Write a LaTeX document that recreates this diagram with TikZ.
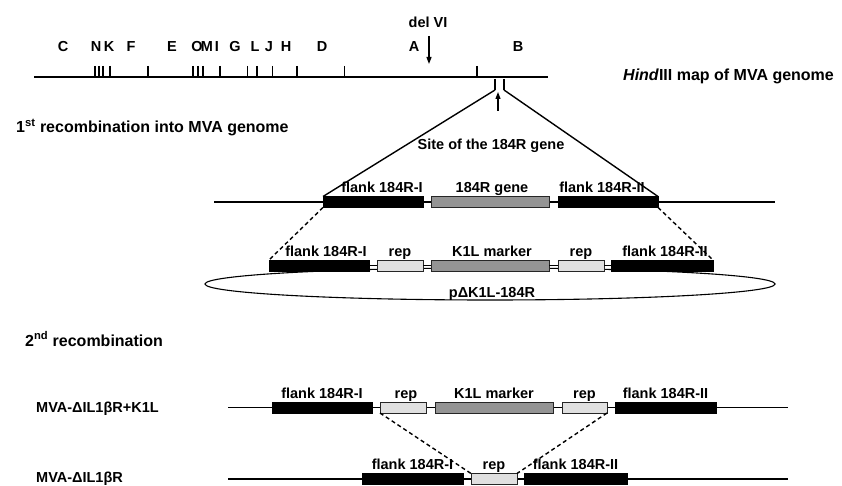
\documentclass[tikz,border=0pt]{standalone}
\usepackage{fontspec}
\setmainfont{Liberation Sans}
\usetikzlibrary{arrows.meta,shapes.geometric}
\newcommand\gbox[5]{\node[#2, minimum width={(#4-#3)*1pt}] (#1) at ({(#3+#4)/2},#5) {};}
\begin{document}
\begin{tikzpicture}[x=1pt,y=-1pt,
  lbl/.style={font=\bfseries\fontsize{14.5}{17}\selectfont, inner sep=0pt, anchor=base},
  ttl/.style={font=\bfseries\fontsize{16}{19}\selectfont, inner sep=0pt, anchor=base west},
  boxbase/.style={draw, line width=0.8pt, inner sep=0pt, outer sep=0pt, minimum height=11pt},
  blk/.style={boxbase, fill=black},
  genebox/.style={boxbase, fill=black!42, draw=black!85},
  repbox/.style={boxbase, fill=black!12, draw=black!85},
  dna/.style={line width=1.1pt},
  tri/.style={line width=1.4pt},
  dsh/.style={line width=1.4pt, dash pattern=on 4pt off 3pt},
  arr/.style={line width=1.2pt, -{Triangle[length=7pt,width=5pt]}}
]
\useasboundingbox (0,0) rectangle (842,486);
\fill[white] (0,0) rectangle (842,486);

% ---------- HindIII map ----------
\coordinate (gA) at (34,77);
\coordinate (gB) at (548,77);
\draw[line width=1.8pt] (gA) -- (gB);
\foreach \x in {95,99,103,110,148,193,198,203,220,247.5,257,272.5,297,344.5,477}
  \draw[line width=1.3pt] (\x,66) -- (\x,77);
\foreach \l/\x in {C/63,N/96,K/109,F/131,E/172,O/197,M/207,I/217,G/235,L/255,J/269,H/286,D/322,A/414,B/518}
  \node[lbl] (let-\l) at (\x,52) {\l};
\node[lbl] (delvi) at (428,28) {del VI};
\coordinate (da0) at (429,36);
\coordinate (da1) at (429,64);
\draw[arr] (da0) -- (da1);
\node[ttl] (hind) at (623,81) {\textit{Hind}III map of MVA genome};

\coordinate (t1a) at (495,79); \coordinate (t1b) at (495,90);
\coordinate (t2a) at (504,79); \coordinate (t2b) at (504,90);
\draw[line width=1.4pt] (t1a) -- (t1b);
\draw[line width=1.4pt] (t2a) -- (t2b);
\coordinate (ua0) at (498,111);
\coordinate (ua1) at (498,92);
\draw[arr] (ua0) -- (ua1);

% ---------- 1st recombination ----------
\node[ttl] (rec1) at (16,133) {1\textsuperscript{st} recombination into MVA genome};
\node[lbl] (site) at (491,150) {Site of the 184R gene};

\coordinate (r2a) at (214,202); \coordinate (r2b) at (775,202);
\draw[dna] (r2a) -- (r2b);
\gbox{f1}{blk}{323}{423}{202}
\gbox{g184}{genebox}{431}{549}{202}
\gbox{f2}{blk}{558}{658}{202}
\node[lbl] (lf1) at ([xshift=9pt,yshift=4pt]f1.north) {flank 184R-I};
\node[lbl] (lg184) at ([xshift=2pt,yshift=4pt]g184.north) {184R gene};
\node[lbl] (lf2) at ([xshift=-6pt,yshift=4pt]f2.north) {flank 184R-II};
\draw[tri] (t1b) -- (f1.north west);
\draw[tri] (t2b) -- (f2.north east);

% plasmid
\node[draw, line width=1.1pt, ellipse, minimum width=570pt, minimum height=32pt, inner sep=0pt] (plasmid) at (490,284) {};
\gbox{pf1}{blk}{269}{369}{265.5}
\gbox{pr1}{repbox}{377}{423}{265.5}
\gbox{pk}{genebox}{431}{549}{265.5}
\gbox{pr2}{repbox}{558}{604}{265.5}
\gbox{pf2}{blk}{611}{713}{265.5}
\draw[dna] (pf1.east) -- (pr1.west);
\draw[dna] (pr1.east) -- (pk.west);
\draw[dna] (pk.east) -- (pr2.west);
\draw[dna] (pr2.east) -- (pf2.west);
\node[lbl] (lpf1) at ([xshift=7pt,yshift=4pt]pf1.north) {flank 184R-I};
\node[lbl] (lpr1) at ([yshift=4pt]pr1.north) {rep};
\node[lbl] (lpk) at ([xshift=2pt,yshift=4pt]pk.north) {K1L marker};
\node[lbl] (lpr2) at ([yshift=4pt]pr2.north) {rep};
\node[lbl] (lpf2) at ([xshift=3pt,yshift=4pt]pf2.north) {flank 184R-II};
\node[lbl] (pname) at (492,297) {pΔK1L-184R};
\draw[dsh] (f1.south west) -- (pf1.north west);
\draw[dsh] (f2.south east) -- (pf2.north east);

% ---------- 2nd recombination ----------
\node[ttl] (rec2) at (25,346) {2\textsuperscript{nd} recombination};

\node[lbl, anchor=base west] (mva1) at (36,412) {MVA-ΔIL1βR+K1L};
\coordinate (r3a) at (228,407.5); \coordinate (r3b) at (788,407.5);
\draw[dna] (r3a) -- (r3b);
\gbox{af1}{blk}{272}{372}{407.5}
\gbox{ar1}{repbox}{380}{426}{407.5}
\gbox{ak}{genebox}{435}{553}{407.5}
\gbox{ar2}{repbox}{562}{607}{407.5}
\gbox{af2}{blk}{615}{716}{407.5}
\node[lbl] (laf1) at ([yshift=4pt]af1.north) {flank 184R-I};
\node[lbl] (lar1) at ([xshift=3pt,yshift=4pt]ar1.north) {rep};
\node[lbl] (lak) at ([yshift=4pt]ak.north) {K1L marker};
\node[lbl] (lar2) at ([yshift=4pt]ar2.north) {rep};
\node[lbl] (laf2) at ([yshift=4pt]af2.north) {flank 184R-II};

\node[lbl, anchor=base west] (mva2) at (36,482) {MVA-ΔIL1βR};
\coordinate (r4a) at (228,479); \coordinate (r4b) at (788,479);
\draw[dna] (r4a) -- (r4b);
\gbox{bf1}{blk}{362}{463}{479}
\gbox{br}{repbox}{471}{517}{479}
\gbox{bf2}{blk}{524}{627}{479}
\node[lbl] (lbf1) at ([yshift=4pt]bf1.north) {flank 184R-I};
\node[lbl] (lbr) at ([yshift=4pt]br.north) {rep};
\node[lbl] (lbf2) at ([yshift=4pt]bf2.north) {flank 184R-II};

\draw[dsh] (ar1.south west) -- (br.north west);
\draw[dsh] (ar2.south east) -- (br.north east);
\end{tikzpicture}
\end{document}
